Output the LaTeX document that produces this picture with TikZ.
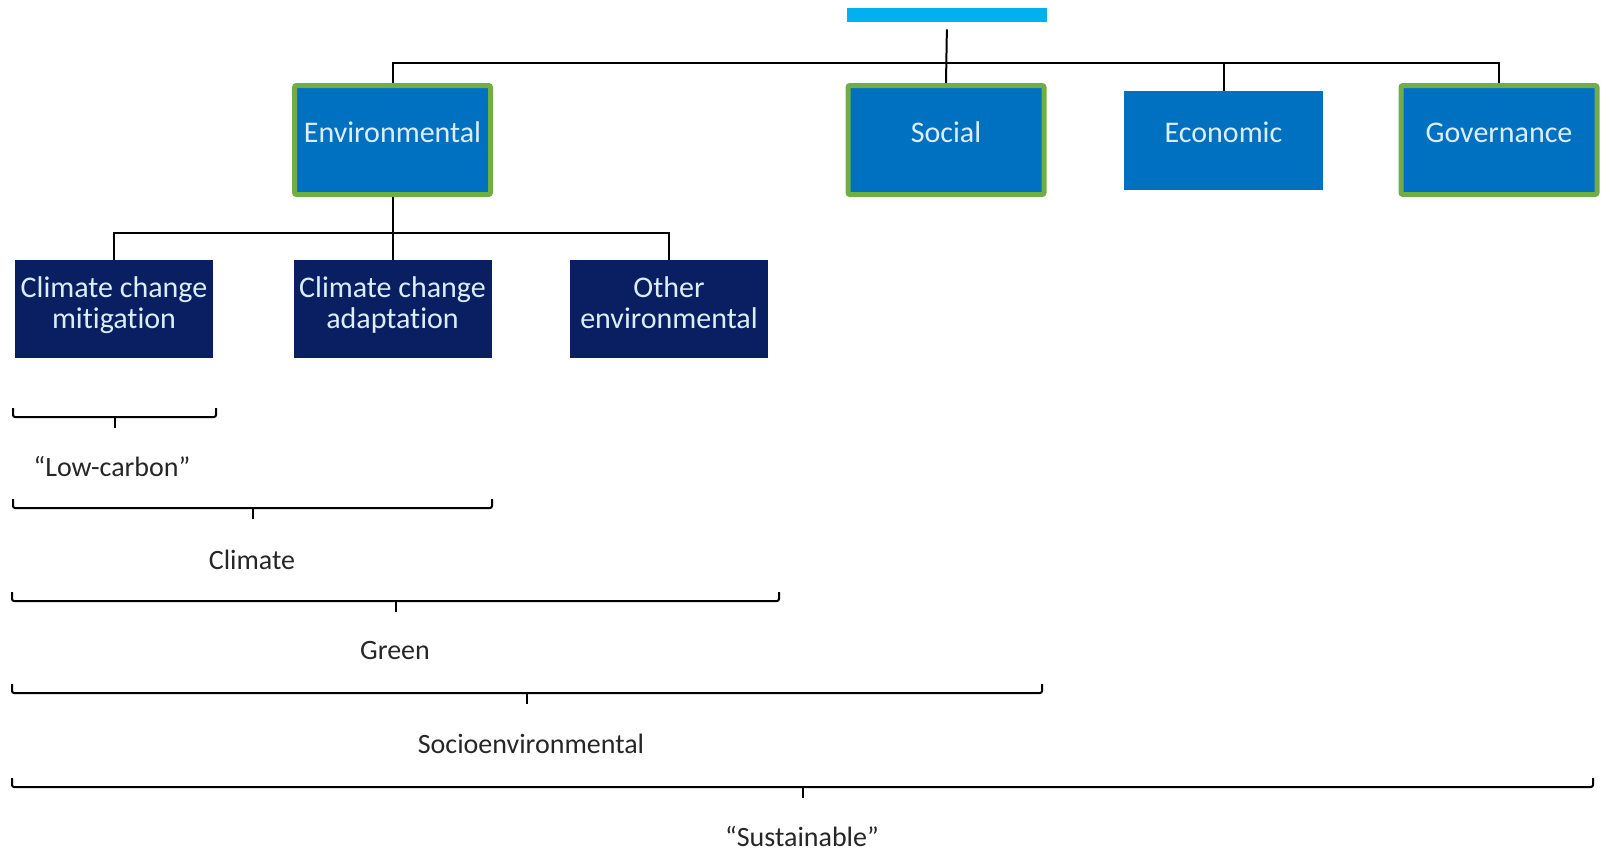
\documentclass[tikz,border=0pt]{standalone}
\usepackage{fontspec}
\setmainfont{Carlito}[Ligatures={NoCommon}]
\usetikzlibrary{positioning}
\definecolor{barcyan}{HTML}{00B0F0}
\definecolor{pillarblue}{HTML}{0070C0}
\definecolor{subnavy}{HTML}{0A1F62}
\definecolor{framegreen}{HTML}{70AD47}
\definecolor{boxtext}{HTML}{DCEEFB}
\tikzset{
  pillar/.style={fill=pillarblue, text=boxtext, minimum width=99.5pt, minimum height=49.5pt,
    inner sep=0pt, text height=10.5pt, text depth=8.5pt, font=\fontsize{15}{15.5}\selectfont},
  picked/.style={draw=framegreen, line width=2.5pt, rounded corners=1pt,
    minimum width=98pt, minimum height=54.5pt},
  theme/.style={fill=subnavy, text=boxtext, minimum width=99pt, minimum height=49pt,
    inner sep=0pt, align=center, text height=26pt, text depth=7pt,
    font=\fontsize{15}{15.5}\selectfont},
  link/.style={line width=1pt},
  brace/.style={line width=1pt, rounded corners=1pt},
  spanlabel/.style={font=\fontsize{14}{15}\selectfont, text=black!85}
}

\begin{document}
\begin{tikzpicture}[x=0.5pt, y=-0.5pt]
\useasboundingbox (0,0) rectangle (1603,851);
% Top bar
\node[fill=barcyan, minimum width=100pt, minimum height=7pt, inner sep=0pt] (topbar) at (947,15) {};
% Pillars
\node[pillar, picked] (env) at (392.5,140) {Environmental};
\node[pillar, picked] (social) at (946,140) {Social};
\node[pillar] (econ) at (1223.5,140.5) {Economic};
\node[pillar, picked] (gov) at (1499,140) {Governance};
% Environmental themes
\node[theme] (mitig) at (114,309) {Climate change\\mitigation};
\node[theme] (adapt) at (392.5,309) {Climate change\\adaptation};
\node[theme] (other) at (669,309) {Other\\environmental};
% Tree
\coordinate (bus) at (0,63);
\coordinate (fork) at (0,233);
\draw[link, shorten <=3.5pt] (topbar.south) -- (social.north);
\draw[link] (env.north) -- (env.north |- bus) -- (gov.north |- bus) -- (gov.north);
\draw[link] (econ.north) -- (econ.north |- bus);
\draw[link] (env.south) -- (env.south |- fork);
\draw[link] (mitig.north) -- (mitig.north |- fork) -- (other.north |- fork) -- (other.north);
\draw[link] (adapt.north) -- (adapt.north |- fork);
% Low-carbon
\draw[brace] (13,408) -- (13,417) -- (216,417) -- (216,408);
\draw[brace] (114.5,417) -- (114.5,428);
\node[spanlabel] (lowcarbon) at (112,467) {“Low-carbon”};
% Climate
\draw[brace] (13,499) -- (13,508) -- (492,508) -- (492,499);
\draw[brace] (252.5,508) -- (252.5,519);
\node[spanlabel] (climate) at (252,560) {Climate};
% Green
\draw[brace] (12,592) -- (12,601) -- (779,601) -- (779,592);
\draw[brace] (395.5,601) -- (395.5,612);
\node[spanlabel] (green) at (395,651) {Green};
% Socioenvironmental
\draw[brace] (12,684) -- (12,693) -- (1042,693) -- (1042,684);
\draw[brace] (527,693) -- (527,704);
\node[spanlabel] (socioenv) at (531,744) {Socioenvironmental};
% Sustainable
\draw[brace] (12,778) -- (12,787) -- (1593,787) -- (1593,778);
\draw[brace] (802.5,787) -- (802.5,798);
\node[spanlabel] (sustainable) at (802,836) {“Sustainable”};
\end{tikzpicture}
\end{document}
